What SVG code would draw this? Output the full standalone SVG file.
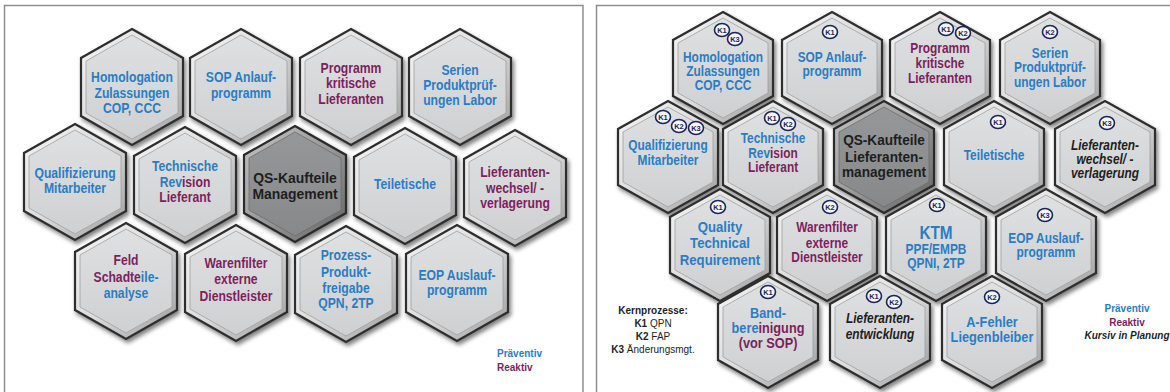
<svg xmlns="http://www.w3.org/2000/svg" xmlns:xlink="http://www.w3.org/1999/xlink" width="1170" height="392" viewBox="0 0 1170 392">
<style>
.hx{fill:url(#rim);stroke:#2f2f2f;stroke-width:2.2;filter:url(#sh)}
.hf{fill:url(#face);stroke:#a0a0a0;stroke-width:0.8}
.hxd{fill:url(#rimd);stroke:#2a2a2a;stroke-width:2.2;filter:url(#sh)}
.hfd{fill:url(#faced);stroke:#6c6c6c;stroke-width:0.8}
.t{font-family:"Liberation Sans",Arial,sans-serif;font-weight:bold;font-size:14.5px;text-anchor:middle}
.tr{font-family:"Liberation Sans",Arial,sans-serif;font-weight:bold;font-size:14px;text-anchor:middle}
.bl{fill:#2a7dc4}
.pu{fill:#7d1f5e}
.bk{fill:#1e1e1e}
.it{font-style:italic}
.k ellipse{fill:#f4f4f6;stroke:#1b2657;stroke-width:1.6}
.k text{font-family:"Liberation Sans",Arial,sans-serif;font-size:7.5px;font-weight:bold;fill:#1b2657;text-anchor:middle}
.lg{font-family:"Liberation Sans",Arial,sans-serif;font-size:10px;font-weight:bold}
.frame{fill:none;stroke:#8f8f8f;stroke-width:1.5}
</style>
<defs>
<linearGradient id="rim" x1="0" y1="0" x2="1" y2="1"><stop offset="0" stop-color="#f5f5f5"/><stop offset="0.5" stop-color="#dcdcdc"/><stop offset="1" stop-color="#9a9a9a"/></linearGradient>
<linearGradient id="face" x1="0" y1="0" x2="0" y2="1"><stop offset="0" stop-color="#dfe0e2"/><stop offset="1" stop-color="#cfd0d2"/></linearGradient>
<linearGradient id="rimd" x1="0" y1="0" x2="1" y2="1"><stop offset="0" stop-color="#c4c4c4"/><stop offset="0.5" stop-color="#9a9a9a"/><stop offset="1" stop-color="#626262"/></linearGradient>
<linearGradient id="faced" x1="0" y1="0" x2="0" y2="1"><stop offset="0" stop-color="#969799"/><stop offset="1" stop-color="#87888a"/></linearGradient>
<filter id="sh" x="-20%" y="-20%" width="150%" height="150%"><feGaussianBlur in="SourceAlpha" stdDeviation="2.2"/><feOffset dx="2" dy="3"/><feComponentTransfer><feFuncA type="linear" slope="0.5"/></feComponentTransfer><feMerge><feMergeNode/><feMergeNode in="SourceGraphic"/></feMerge></filter>
<polygon id="hL" points="0,-58 51,-29 51,29 0,58 -51,29 -51,-29"/>
<polygon id="hLi" points="0,-52 46,-26 46,26 0,52 -46,26 -46,-26"/>
<polygon id="hR" points="0,-56 50,-28 50,28 0,56 -50,28 -50,-28"/>
<polygon id="hRi" points="0,-50 45,-25 45,25 0,50 -45,25 -45,-25"/>
</defs>
<rect width="1170" height="392" fill="#ffffff"/>
<rect class="frame" x="4.5" y="5.5" width="578.5" height="400"/>
<rect class="frame" x="596.5" y="5.5" width="600" height="400"/>

<!-- LEFT PANEL -->
<g id="L-homologation" transform="translate(132,87)"><use href="#hL" class="hx"/><use href="#hLi" class="hf"/>
<text class="t bl" transform="scale(0.84,1)"><tspan x="0" y="-5">Homologation</tspan><tspan x="0" y="11">Zulassungen</tspan><tspan x="0" y="26">COP, CCC</tspan></text></g>
<g id="L-sop" transform="translate(241,87)"><use href="#hL" class="hx"/><use href="#hLi" class="hf"/>
<text class="t bl" transform="scale(0.84,1)"><tspan x="0" y="-5">SOP Anlauf-</tspan><tspan x="0" y="11">programm</tspan></text></g>
<g id="L-programm" transform="translate(351,87)"><use href="#hL" class="hx"/><use href="#hLi" class="hf"/>
<text class="t pu" transform="scale(0.84,1)"><tspan x="0" y="-14">Programm</tspan><tspan x="0" y="1">kritische</tspan><tspan x="0" y="17">Lieferanten</tspan></text></g>
<g id="L-serien" transform="translate(460,87)"><use href="#hL" class="hx"/><use href="#hLi" class="hf"/>
<text class="t bl" transform="scale(0.84,1)"><tspan x="0" y="-12">Serien</tspan><tspan x="0" y="3">Produktprüf-</tspan><tspan x="0" y="18">ungen Labor</tspan></text></g>

<g id="L-qualifizierung" transform="translate(75,182)"><use href="#hL" class="hx"/><use href="#hLi" class="hf"/>
<text class="t bl" transform="scale(0.84,1)"><tspan x="0" y="-4">Qualifizierung</tspan><tspan x="0" y="11">Mitarbeiter</tspan></text></g>
<g id="L-technische" transform="translate(185,185)"><use href="#hL" class="hx"/><use href="#hLi" class="hf"/>
<text class="t" transform="scale(0.84,1)"><tspan x="0" y="-14" class="bl">Technische</tspan><tspan x="0" y="2" class="bl">Rev</tspan><tspan class="pu">ision</tspan><tspan x="0" y="17" class="pu">Lieferant</tspan></text></g>
<g id="L-qs" transform="translate(295,184)"><use href="#hL" class="hxd"/><use href="#hLi" class="hfd"/>
<text class="t bk" style="font-size:15.5px" transform="scale(0.9,1)"><tspan x="0" y="-1.5">QS-Kaufteile</tspan><tspan x="0" y="15">Management</tspan></text></g>
<g id="L-teiletische" transform="translate(405,186)"><use href="#hL" class="hx"/><use href="#hLi" class="hf"/>
<text class="t bl" transform="scale(0.84,1)"><tspan x="0" y="3">Teiletische</tspan></text></g>
<g id="L-wechsel" transform="translate(515,188)"><use href="#hL" class="hx"/><use href="#hLi" class="hf"/>
<text class="t pu" transform="scale(0.84,1)"><tspan x="0" y="-11">Lieferanten-</tspan><tspan x="0" y="5">wechsel/ -</tspan><tspan x="0" y="20">verlagerung</tspan></text></g>

<g id="L-feld" transform="translate(126,281)"><use href="#hL" class="hx"/><use href="#hLi" class="hf"/>
<text class="t" transform="scale(0.84,1)"><tspan x="0" y="-16" class="pu">Feld</tspan><tspan x="0" y="1" class="pu">Schadte</tspan><tspan class="bl">ile-</tspan><tspan x="0" y="17" class="bl">analyse</tspan></text></g>
<g id="L-warenfilter" transform="translate(236,283)"><use href="#hL" class="hx"/><use href="#hLi" class="hf"/>
<text class="t pu" transform="scale(0.84,1)"><tspan x="0" y="-15">Warenfilter</tspan><tspan x="0" y="1">externe</tspan><tspan x="0" y="18">Dienstleister</tspan></text></g>
<g id="L-prozess" transform="translate(346,284)"><use href="#hL" class="hx"/><use href="#hLi" class="hf"/>
<text class="t bl" transform="scale(0.84,1)"><tspan x="0" y="-24">Prozess-</tspan><tspan x="0" y="-7">Produkt-</tspan><tspan x="0" y="9">freigabe</tspan><tspan x="0" y="24">QPN, 2TP</tspan></text></g>
<g id="L-eop" transform="translate(457,283)"><use href="#hL" class="hx"/><use href="#hLi" class="hf"/>
<text class="t bl" transform="scale(0.84,1)"><tspan x="0" y="-3">EOP Auslauf-</tspan><tspan x="0" y="12">programm</tspan></text></g>

<g id="L-legend">
<text class="lg bl" x="497" y="357">Präventiv</text>
<text class="lg pu" x="497" y="371">Reaktiv</text>
</g>

<!-- RIGHT PANEL -->
<g id="R-homologation" transform="translate(723,68)"><use href="#hR" class="hx"/><use href="#hRi" class="hf"/>
<text class="tr bl" transform="scale(0.85,1)"><tspan x="0" y="-6">Homologation</tspan><tspan x="0" y="8">Zulassungen</tspan><tspan x="0" y="22">COP, CCC</tspan></text>
<g class="k" transform="translate(-1,-38)"><ellipse rx="7.5" ry="6.5"/><text y="2.6">K1</text></g>
<g class="k" transform="translate(12,-29)"><ellipse rx="7.5" ry="6.5"/><text y="2.6">K3</text></g></g>
<g id="R-sop" transform="translate(832,68)"><use href="#hR" class="hx"/><use href="#hRi" class="hf"/>
<text class="tr bl" transform="scale(0.85,1)"><tspan x="0" y="-6">SOP Anlauf-</tspan><tspan x="0" y="8">programm</tspan></text>
<g class="k" transform="translate(-2,-36)"><ellipse rx="7.5" ry="6.5"/><text y="2.6">K1</text></g></g>
<g id="R-programm" transform="translate(940,68)"><use href="#hR" class="hx"/><use href="#hRi" class="hf"/>
<text class="tr pu" transform="scale(0.85,1)"><tspan x="0" y="-15">Programm</tspan><tspan x="0" y="0">kritische</tspan><tspan x="0" y="15">Lieferanten</tspan></text>
<g class="k" transform="translate(6,-39)"><ellipse rx="7.5" ry="6.5"/><text y="2.6">K1</text></g>
<g class="k" transform="translate(23,-35)"><ellipse rx="7.5" ry="6.5"/><text y="2.6">K2</text></g></g>
<g id="R-serien" transform="translate(1050,68)"><use href="#hR" class="hx"/><use href="#hRi" class="hf"/>
<text class="tr bl" transform="scale(0.85,1)"><tspan x="0" y="-10">Serien</tspan><tspan x="0" y="4">Produktprüf-</tspan><tspan x="0" y="19">ungen Labor</tspan></text>
<g class="k" transform="translate(0,-36)"><ellipse rx="7.5" ry="6.5"/><text y="2.6">K2</text></g></g>

<g id="R-qualifizierung" transform="translate(668,157)"><use href="#hR" class="hx"/><use href="#hRi" class="hf"/>
<text class="tr bl" transform="scale(0.85,1)"><tspan x="0" y="-7">Qualifizierung</tspan><tspan x="0" y="8">Mitarbeiter</tspan></text>
<g class="k" transform="translate(-5,-40)"><ellipse rx="7.5" ry="6.5"/><text y="2.6">K1</text></g>
<g class="k" transform="translate(11,-31)"><ellipse rx="7.5" ry="6.5"/><text y="2.6">K2</text></g>
<g class="k" transform="translate(28,-29)"><ellipse rx="7.5" ry="6.5"/><text y="2.6">K3</text></g></g>
<g id="R-technische" transform="translate(773,157)"><use href="#hR" class="hx"/><use href="#hRi" class="hf"/>
<text class="tr" transform="scale(0.85,1)"><tspan x="0" y="-14" class="bl">Technische</tspan><tspan x="0" y="1" class="bl">Rev</tspan><tspan class="pu">ision</tspan><tspan x="0" y="15" class="pu">Lieferant</tspan></text>
<g class="k" transform="translate(-1,-39)"><ellipse rx="7.5" ry="6.5"/><text y="2.6">K1</text></g>
<g class="k" transform="translate(15,-33)"><ellipse rx="7.5" ry="6.5"/><text y="2.6">K2</text></g></g>
<g id="R-qs" transform="translate(884,157)"><use href="#hR" class="hxd"/><use href="#hRi" class="hfd"/>
<text class="tr bk" style="font-size:15.5px" transform="scale(0.88,1)"><tspan x="0" y="-12">QS-Kaufteile</tspan><tspan x="0" y="5">Lieferanten-</tspan><tspan x="0" y="20">management</tspan></text></g>
<g id="R-teiletische" transform="translate(994,157)"><use href="#hR" class="hx"/><use href="#hRi" class="hf"/>
<text class="tr bl" transform="scale(0.85,1)"><tspan x="0" y="3">Teiletische</tspan></text>
<g class="k" transform="translate(4,-35)"><ellipse rx="7.5" ry="6.5"/><text y="2.6">K1</text></g></g>
<g id="R-wechsel" transform="translate(1105,157)"><use href="#hR" class="hx"/><use href="#hRi" class="hf"/>
<text class="tr bk it" transform="scale(0.85,1)"><tspan x="0" y="-7">Lieferanten-</tspan><tspan x="0" y="7">wechsel/ -</tspan><tspan x="0" y="21">verlagerung</tspan></text>
<g class="k" transform="translate(2,-34)"><ellipse rx="7.5" ry="6.5"/><text y="2.6">K3</text></g></g>

<g id="R-quality" transform="translate(720,245)"><use href="#hR" class="hx"/><use href="#hRi" class="hf"/>
<text class="tr bl" style="font-size:15.5px" transform="scale(0.85,1)"><tspan x="0" y="-13">Quality</tspan><tspan x="0" y="3">Technical</tspan><tspan x="0" y="20">Requirement</tspan></text>
<g class="k" transform="translate(-2,-38)"><ellipse rx="7.5" ry="6.5"/><text y="2.6">K1</text></g></g>
<g id="R-warenfilter" transform="translate(827,245)"><use href="#hR" class="hx"/><use href="#hRi" class="hf"/>
<text class="tr pu" transform="scale(0.85,1)"><tspan x="0" y="-13">Warenfilter</tspan><tspan x="0" y="3">externe</tspan><tspan x="0" y="17">Dienstleister</tspan></text>
<g class="k" transform="translate(3,-38)"><ellipse rx="7.5" ry="6.5"/><text y="2.6">K2</text></g></g>
<g id="R-ktm" transform="translate(936,245)"><use href="#hR" class="hx"/><use href="#hRi" class="hf"/>
<text class="tr bl" transform="scale(0.85,1)"><tspan x="0" y="-6" style="font-size:18px">KTM</tspan><tspan x="0" y="9">PPF/EMPB</tspan><tspan x="0" y="23">QPNI, 2TP</tspan></text>
<g class="k" transform="translate(1,-40)"><ellipse rx="7.5" ry="6.5"/><text y="2.6">K1</text></g></g>
<g id="R-eop" transform="translate(1046,245)"><use href="#hR" class="hx"/><use href="#hRi" class="hf"/>
<text class="tr bl" transform="scale(0.85,1)"><tspan x="0" y="-2">EOP Auslauf-</tspan><tspan x="0" y="12">programm</tspan></text>
<g class="k" transform="translate(-1,-30)"><ellipse rx="7.5" ry="6.5"/><text y="2.6">K3</text></g></g>

<g id="R-band" transform="translate(768,332)"><use href="#hR" class="hx"/><use href="#hRi" class="hf"/>
<text class="tr" style="font-size:15px" transform="scale(0.85,1)"><tspan x="0" y="-14" class="bl">Band-</tspan><tspan x="0" y="1" class="bl">bere</tspan><tspan class="pu">inigung</tspan><tspan x="0" y="16" class="pu">(vor SOP)</tspan></text>
<g class="k" transform="translate(0,-40)"><ellipse rx="7.5" ry="6.5"/><text y="2.6">K1</text></g></g>
<g id="R-entwicklung" transform="translate(880,332)"><use href="#hR" class="hx"/><use href="#hRi" class="hf"/>
<text class="tr bk it" transform="scale(0.85,1)"><tspan x="0" y="-9">Lieferanten-</tspan><tspan x="0" y="7">entwicklung</tspan></text>
<g class="k" transform="translate(-6,-36)"><ellipse rx="7.5" ry="6.5"/><text y="2.6">K1</text></g>
<g class="k" transform="translate(14,-30)"><ellipse rx="7.5" ry="6.5"/><text y="2.6">K2</text></g></g>
<g id="R-afehler" transform="translate(992,332)"><use href="#hR" class="hx"/><use href="#hRi" class="hf"/>
<text class="tr bl" style="font-size:15px" transform="scale(0.85,1)"><tspan x="0" y="-5">A-Fehler</tspan><tspan x="0" y="10">Liegenbleiber</tspan></text>
<g class="k" transform="translate(0,-35)"><ellipse rx="7.5" ry="6.5"/><text y="2.6">K2</text></g></g>

<g id="R-kern-legend" style="text-anchor:middle">
<text class="lg bk" x="653" y="314">Kernprozesse:</text>
<text class="lg bk" x="653" y="327">K1 <tspan style="font-weight:normal">QPN</tspan></text>
<text class="lg bk" x="653" y="340">K2 <tspan style="font-weight:normal">FAP</tspan></text>
<text class="lg bk" x="653" y="353">K3 <tspan style="font-weight:normal">Änderungsmgt.</tspan></text>
</g>
<g id="R-legend" style="text-anchor:middle">
<text class="lg bl" x="1127" y="312">Präventiv</text>
<text class="lg pu" x="1127" y="326">Reaktiv</text>
<text class="lg bk it" x="1127" y="339">Kursiv in Planung</text>
</g>
</svg>
